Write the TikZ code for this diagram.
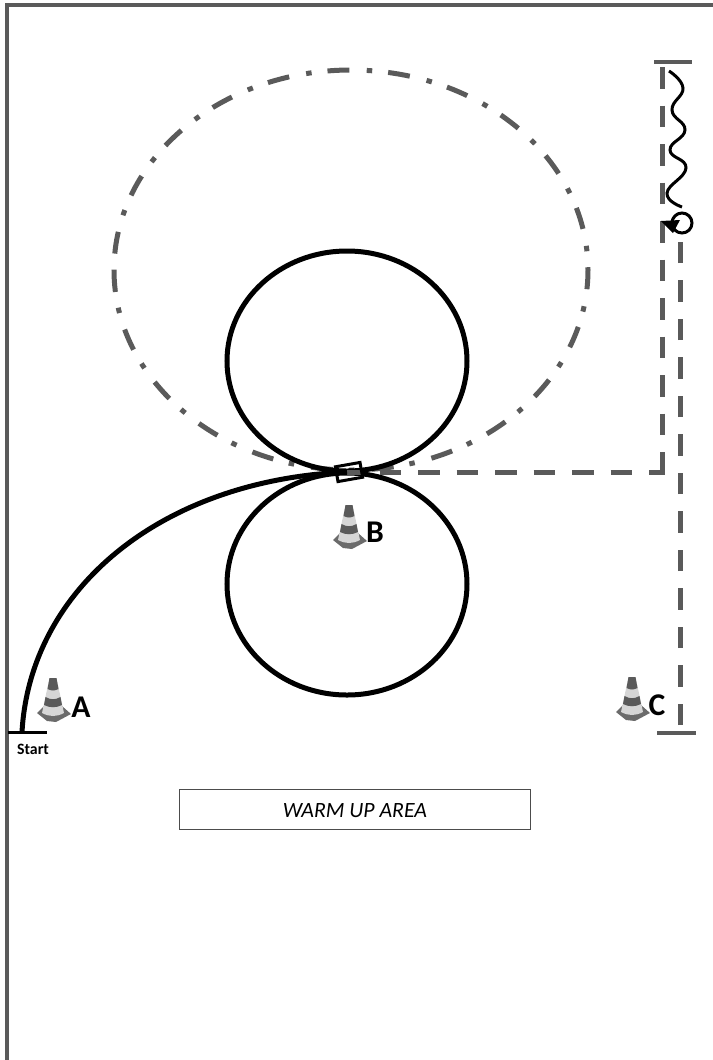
\documentclass[tikz,border=0pt]{standalone}
\usepackage{fontspec}
\setmainfont{Carlito}
\usetikzlibrary{arrows.meta,positioning,shapes.geometric}

\definecolor{linegray}{RGB}{90,90,90}

% traffic cone, origin at the middle of its foot
\newcommand{\conepic}[1]{
  \begin{scope}[shift={(#1)}]
    \fill[linegray!90] (-16,2) -- (-9,-5) -- (9,-5) -- (18,3) -- (3,11) -- (-6,10) -- cycle;
    \fill[linegray!25] (-11,2) -- (-3.5,-33) -- (3.5,-33) -- (11,2) .. controls (3,6) and (-3,6) .. (-11,2) -- cycle;
    \fill[linegray] (-3.5,-33) -- (3.5,-33) -- (5.5,-22) .. controls (1,-20) and (-1,-20) .. (-5.5,-22) -- cycle;
    \fill[linegray] (-7.5,-14) .. controls (-2,-11) and (2,-11) .. (7.5,-14) -- (9,-6) .. controls (3,-3) and (-3,-3) .. (-9,-6) -- cycle;
  \end{scope}
}

\begin{document}
\begin{tikzpicture}[
  x=0.2mm, y=-0.2mm,
  wall/.style={draw=linegray, line width=0.8mm},
  lap/.style={draw, line width=1mm, ellipse, inner sep=0pt},
  run/.style={draw=linegray, line width=1mm, dash pattern=on 4.3mm off 3.4mm},
  gait/.style={draw=linegray, line width=1mm, ellipse, inner sep=0pt, dash pattern=on 4.4mm off 3.2mm on 1.1mm off 3.455mm},
  bar/.style={draw=linegray, line width=0.7mm},
  lbl/.style={font=\fontsize{18}{18}\selectfont\bfseries, inner sep=0pt}
]
\useasboundingbox (0,0) rectangle (713,1060);
\draw[wall] (7,1060) -- (7,5) -- (713,5);

\coordinate (cross) at (347,472);
\coordinate (cornerin) at (662,472);
\coordinate (cornerout) at (664.5,472);
\coordinate (topin) at (662,67);
\coordinate (topl) at (654,62);
\coordinate (topr) at (692,62);
\coordinate (botl) at (657,733);
\coordinate (botr) at (696,733);
\coordinate (botrun) at (680,725);
\coordinate (turntop) at (680,242);
\coordinate (startl) at (8,732);
\coordinate (startr) at (47,732);
\coordinate (startc) at (22,732);

% gait ellipse and the two laps
\node[gait, rotate=180, minimum width=94.8mm, minimum height=80mm] (gaitline) at (351,270) {};
\node[lap, minimum width=48mm, minimum height=44mm] (upper) at (347,361) {};
\node[lap, minimum width=48mm, minimum height=44.4mm] (lower) at (347,584) {};

% runs
\draw[run] (topin) -- (cornerin);
\draw[run, dash phase=1.16mm] (cross) -- (cornerout);
\draw[run] (botrun) -- (turntop);
\draw[bar] (topl) -- (topr);
\draw[bar] (botl) -- (botr);

% start curve
\draw[line width=1mm] (startc) .. controls (30,590) and (160,480) .. (cross);
\draw[line width=0.6mm] (startl) -- (startr);
\node[font=\bfseries\fontsize{9}{9}\selectfont, inner sep=0pt] (start) at (33,749) {Start};

% halt box on the centre line
\node[draw, line width=0.6mm, minimum width=5mm, minimum height=3mm, inner sep=0pt, rotate=10] (halt) at (349,472) {};

% wavy line and the turn
\draw[line width=0.6mm] plot[smooth, tension=0.8] coordinates {(669,71) (683,88) (672,110) (685,130) (670,150) (686,168) (667,193) (682,207)};
\node[draw, circle, line width=0.6mm, minimum size=4mm, inner sep=0pt] (turn) at (682,223) {};
\fill (661,221) -- (680,220) -- (673,233) -- cycle;

% cones
\conepic{53,711}
\conepic{349,538}
\conepic{632,710}
\node[lbl] (a) at (81,707) {A};
\node[lbl] (b) at (375,532) {B};
\node[lbl] (c) at (657,705) {C};

\node[draw=black!70, line width=0.2mm, minimum width=70mm, minimum height=8mm, inner sep=0pt,
  text height=3.4mm, text depth=0pt,
  font=\itshape\fontsize{12.4}{12.4}\selectfont] (warm) at (355,809) {WARM UP AREA};
\end{tikzpicture}
\end{document}
